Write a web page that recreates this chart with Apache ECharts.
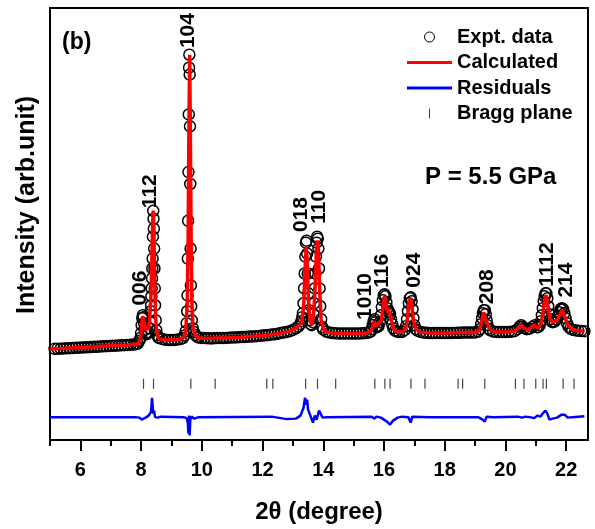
<!DOCTYPE html>
<html><head><meta charset="utf-8">
<script src="https://cdn.jsdelivr.net/npm/echarts@6/dist/echarts.min.js"></script>
<style>html,body{margin:0;padding:0;background:#fff}#c{width:595px;height:529px}</style>
</head><body><div id="c"></div>
<script>
// 2theta (degree), intensity (arb. units)
const obsData = [
[5.15,692],[5.25,693],[5.35,694],[5.45,696],[5.55,697],[5.65,699],[5.75,700],[5.85,702],[5.95,704],
[6.05,705],[6.15,707],[6.25,708],[6.35,710],[6.45,712],[6.55,713],[6.65,715],[6.75,717],[6.85,719],[6.95,721],
[7.05,722],[7.15,724],[7.25,725],[7.35,727],[7.45,729],[7.55,731],[7.65,733],[7.75,735],[7.83,739],[7.89,746],
[7.94,770],[7.98,800],[8.00,850],[8.02,930],[8.04,1000],[8.06,1030],[8.08,1010],[8.10,950],[8.12,880],[8.15,845],
[8.18,838],[8.21,845],[8.24,860],[8.27,900],[8.30,960],[8.32,1070],[8.33,1130],[8.34,1220],[8.35,1300],[8.36,1400],
[8.37,1500],[8.38,1600],[8.39,1820],[8.40,2080],[8.41,2000],[8.42,1900],[8.43,1700],[8.44,1500],[8.45,1300],[8.46,1130],
[8.48,980],[8.50,880],[8.53,830],[8.57,805],[8.6,800],[8.7,790],[8.8,783],[8.9,781],[9.0,780],[9.1,782],
[9.2,785],[9.3,790],[9.38,800],[9.43,825],[9.47,870],[9.50,950],[9.52,1070],[9.53,1230],[9.54,1600],[9.55,1980],
[9.56,2470],[9.57,3050],[9.58,3520],[9.59,3650],[9.60,3450],[9.61,2930],[9.62,2350],[9.63,1700],[9.64,1330],[9.65,1120],
[9.67,980],[9.70,900],[9.74,860],[9.79,830],[9.85,812],[9.9,805],[10.0,800],[10.1,800],[10.2,798],[10.3,797],
[10.4,798],[10.5,800],[10.6,800],[10.7,801],[10.8,802],[10.9,804],[11.0,806],[11.1,807],[11.2,808],[11.3,810],
[11.4,811],[11.5,813],[11.6,815],[11.7,817],[11.8,819],[11.9,822],[12.0,825],[12.1,828],[12.2,831],[12.3,835],
[12.4,839],[12.5,844],[12.6,850],[12.7,856],[12.8,862],[12.9,870],[13.0,882],[13.1,898],[13.18,915],[13.24,940],
[13.28,970],[13.31,1010],[13.33,1050],[13.35,1150],[13.37,1300],[13.39,1450],[13.41,1620],[13.43,1760],[13.45,1780],[13.47,1650],
[13.49,1450],[13.51,1250],[13.53,1080],[13.56,980],[13.59,940],[13.62,930],[13.65,960],[13.68,1040],[13.70,1150],[13.72,1300],
[13.74,1450],[13.76,1620],[13.78,1760],[13.80,1820],[13.82,1800],[13.84,1700],[13.86,1500],[13.88,1300],[13.90,1120],[13.93,990],
[13.97,910],[14.0,885],[14.1,865],[14.2,855],[14.3,850],[14.4,848],[14.5,846],[14.6,845],[14.7,845],[14.8,845],
[14.9,845],[15.0,845],[15.1,846],[15.2,847],[15.3,848],[15.4,850],[15.5,855],[15.56,865],[15.60,890],[15.63,930],
[15.66,970],[15.69,990],[15.72,960],[15.75,920],[15.78,910],[15.82,920],[15.86,960],[15.90,1030],[15.93,1110],[15.96,1180],
[15.99,1230],[16.02,1240],[16.05,1220],[16.08,1160],[16.11,1100],[16.14,1070],[16.17,1060],[16.20,1040],[16.23,990],[16.27,940],
[16.31,900],[16.36,875],[16.42,865],[16.5,860],[16.6,862],[16.68,880],[16.73,920],[16.76,990],[16.79,1070],[16.82,1150],
[16.85,1200],[16.88,1210],[16.91,1170],[16.94,1090],[16.97,1000],[17.00,930],[17.05,890],[17.1,875],[17.2,862],[17.3,856],
[17.4,853],[17.5,851],[17.6,850],[17.7,850],[17.8,850],[17.9,850],[18.0,850],[18.1,851],[18.2,852],[18.3,852],
[18.4,853],[18.5,854],[18.6,855],[18.7,855],[18.8,856],[18.9,856],[19.0,857],[19.1,865],[19.16,890],[19.20,940],
[19.23,1000],[19.26,1050],[19.29,1080],[19.32,1080],[19.35,1040],[19.38,980],[19.41,930],[19.45,895],[19.5,878],[19.6,866],
[19.7,862],[19.8,860],[19.9,860],[20.0,860],[20.1,862],[20.2,865],[20.3,870],[20.4,890],[20.47,915],[20.52,930],
[20.57,915],[20.62,900],[20.7,890],[20.8,895],[20.9,915],[20.97,930],[21.03,910],[21.08,910],[21.13,930],[21.17,970],
[21.20,1030],[21.23,1100],[21.26,1170],[21.29,1220],[21.32,1250],[21.35,1250],[21.38,1200],[21.41,1120],[21.44,1040],[21.48,990],
[21.52,965],[21.56,960],[21.62,965],[21.68,985],[21.73,1020],[21.78,1060],[21.82,1090],[21.86,1100],[21.90,1090],[21.94,1050],
[21.98,1000],[22.03,950],[22.08,915],[22.14,895],[22.2,885],[22.3,878],[22.4,874],[22.5,872],[22.6,870]
];
const calcData = [
[5.00,690],[5.50,697],[6.00,705],[6.50,713],[7.00,722],[7.50,730],[7.80,737],[7.92,750],[7.98,800],[8.02,910],
[8.05,1020],[8.07,1033],[8.10,970],[8.15,880],[8.20,860],[8.25,900],[8.28,980],[8.32,1200],[8.35,1500],[8.38,1950],
[8.40,2083],[8.42,1920],[8.45,1350],[8.48,1000],[8.52,850],[8.58,800],[8.65,785],[8.80,780],[9.00,780],[9.20,785],
[9.40,805],[9.47,870],[9.52,1150],[9.55,1800],[9.57,2700],[9.60,3650],[9.62,3000],[9.645,1900],[9.67,1200],[9.71,900],
[9.78,830],[9.90,800],[10.20,795],[10.44,800],[10.80,800],[11.20,805],[11.60,815],[12.00,825],[12.30,835],[12.60,850],
[12.90,870],[13.10,900],[13.25,940],[13.30,980],[13.36,1150],[13.40,1500],[13.44,1720],[13.47,1580],[13.51,1200],[13.56,980],
[13.62,933],[13.68,1020],[13.73,1300],[13.77,1650],[13.81,1783],[13.84,1700],[13.88,1300],[13.93,980],[14.00,890],[14.10,860],
[14.30,850],[14.60,845],[15.00,845],[15.40,850],[15.58,870],[15.64,930],[15.69,970],[15.74,920],[15.80,900],[15.92,980],
[15.98,1150],[16.02,1220],[16.07,1140],[16.12,1060],[16.16,1050],[16.19,1070],[16.24,980],[16.32,890],[16.45,860],[16.60,860],
[16.72,900],[16.78,1020],[16.83,1170],[16.87,1200],[16.91,1150],[16.97,980],[17.05,890],[17.20,860],[17.50,850],[18.00,850],
[18.50,855],[19.00,855],[19.15,880],[19.22,970],[19.28,1060],[19.31,1073],[19.34,1050],[19.40,950],[19.50,880],[19.70,860],
[20.00,860],[20.30,870],[20.45,910],[20.52,930],[20.60,900],[20.75,885],[20.90,920],[20.97,930],[21.05,900],[21.15,930],
[21.22,1020],[21.28,1160],[21.34,1233],[21.39,1150],[21.46,1000],[21.55,960],[21.70,980],[21.80,1040],[21.88,1083],[21.95,1020],
[22.05,930],[22.20,890],[22.40,875],[22.60,870]
];
const residData = [
[5.0,5],[7.8,5],[7.95,0],[8.02,-20],[8.08,-40],[8.15,0],[8.25,20],[8.33,60],[8.36,200],[8.38,180],
[8.40,40],[8.43,70],[8.46,5],[8.50,25],[8.55,0],[8.65,10],[9.4,5],[9.50,-5],[9.54,-50],[9.56,-160],
[9.58,20],[9.60,-180],[9.62,-20],[9.66,10],[9.75,-10],[9.90,5],[12.3,10],[12.5,0],[12.8,-15],[13.1,-10],
[13.25,20],[13.35,100],[13.40,200],[13.44,130],[13.47,180],[13.50,80],[13.54,100],[13.60,0],[13.66,-50],[13.72,20],
[13.78,-20],[13.86,70],[13.92,80],[13.98,0],[14.1,5],[15.6,10],[15.68,-10],[15.75,10],[15.9,0],[16.1,-40],
[16.2,-70],[16.3,-30],[16.45,0],[16.6,10],[16.8,5],[16.88,-50],[16.93,10],[17.5,5],[19.1,5],[19.25,-20],
[19.32,-40],[19.38,10],[19.6,5],[20.4,10],[20.55,0],[20.65,10],[20.8,5],[20.95,-5],[21.05,20],[21.15,10],
[21.25,50],[21.32,70],[21.38,40],[21.45,-20],[21.55,-10],[21.7,0],[21.85,30],[21.95,30],[22.05,0],[22.2,5],
[22.6,15]
];
const braggPositions = [8.08,8.41,9.64,10.44,12.14,12.34,13.42,13.81,14.41,15.70,16.03,16.20,16.89,17.35,18.44,18.59,19.32,20.33,20.61,21.00,21.24,21.35,21.90,22.26];
const braggLevel = 340;
const peakLabels = ['006','112','104','018','110','1010','116','024','208','1112','214'];
const peakLabelPos = [[7.96,1127],[8.30,2107],[9.55,3717],[13.27,1867],[13.86,1950],[15.39,983],[15.94,1307],[17.01,1307],[19.39,1140],[21.38,1317],[22.01,1207]];
const majorTicks = [6,8,10,12,14,16,18,20,22];
const minorTicks = [5,7,9,11,13,15,17,19,21];
const xRange = [5, 22.72];
const yRange = [-225, 4120];

const FONT = '"Liberation Sans", Arial, sans-serif';
const LINE_ICON = 'path://M0,0L45,0L45,3L0,3Z';
const chart = echarts.init(document.getElementById('c'), null, {renderer: 'canvas'});
chart.setOption({
  animation: false,
  backgroundColor: '#fff',
  grid: {left: 50, right: 7, top: 8, bottom: 86.5, show: true, borderColor: '#000', borderWidth: 2, backgroundColor: 'transparent'},
  xAxis: [
    {type: 'value', min: xRange[0], max: xRange[1], position: 'bottom',
     axisLine: {show: true, onZero: false, lineStyle: {color: '#000', width: 2}},
     axisTick: {show: true, customValues: majorTicks, length: 11, lineStyle: {color: '#000', width: 2}},
     axisLabel: {show: true, customValues: majorTicks, margin: 20, fontSize: 20, fontWeight: 'bold', color: '#000', fontFamily: FONT},
     splitLine: {show: false},
     name: '2θ (degree)', nameLocation: 'middle', nameGap: 60,
     nameTextStyle: {fontSize: 24, fontWeight: 'bold', color: '#000', fontFamily: FONT}},
    {type: 'value', min: xRange[0], max: xRange[1], position: 'bottom',
     axisLine: {show: false, onZero: false},
     axisTick: {show: true, customValues: minorTicks, length: 6, lineStyle: {color: '#000', width: 2}},
     axisLabel: {show: false}, splitLine: {show: false}}
  ],
  yAxis: {type: 'value', min: yRange[0], max: yRange[1], show: false},
  legend: {
    orient: 'vertical', left: 402, top: 22, itemWidth: 45, itemHeight: 10, itemGap: 5.5,
    selectedMode: false,
    textStyle: {fontSize: 20, fontWeight: 'bold', color: '#000', fontFamily: FONT},
    data: [
      {name: 'Expt. data', icon: 'circle', itemStyle: {borderWidth: 1}},
      {name: 'Calculated', icon: LINE_ICON},
      {name: 'Residuals', icon: LINE_ICON},
      {name: 'Bragg plane', icon: 'path://M0,0L1,0L1,10L0,10Z'}
    ]
  },
  series: [
    {name: 'Expt. data', type: 'scatter', data: obsData, symbol: 'circle', symbolSize: 11,
     itemStyle: {color: 'rgba(255,255,255,0)', borderColor: '#000', borderWidth: 1.5, opacity: 1}, z: 2, silent: true},
    {name: 'Calculated', type: 'line', data: calcData, symbol: 'none',
     lineStyle: {color: '#ff0000', width: 3.5}, itemStyle: {color: '#ff0000'}, z: 3, silent: true},
    {name: 'Residuals', type: 'line', data: residData, symbol: 'none',
     lineStyle: {color: '#0000ff', width: 2.5}, itemStyle: {color: '#0000ff'}, z: 3, silent: true},
    {name: 'Bragg plane', type: 'scatter', data: braggPositions.map(v => [v, braggLevel]),
     symbol: 'rect', symbolSize: [1.2, 10], itemStyle: {color: '#444', opacity: 1}, z: 3, silent: true},
    {name: 'hkl', type: 'scatter', z: 5, silent: true, symbolSize: 1,
     itemStyle: {color: 'rgba(0,0,0,0)', opacity: 1},
     data: peakLabels.map((t, i) => ({name: t, value: peakLabelPos[i]})),
     label: {show: true, formatter: '{b}', rotate: 90, position: 'inside', align: 'left', verticalAlign: 'middle',
             fontSize: 21, fontWeight: 'bold', color: '#000', opacity: 1, fontFamily: FONT}}
  ],
  graphic: [
    {type: 'text', x: 62, y: 42.5, style: {text: '(b)', textAlign: 'left', textVerticalAlign: 'middle', font: 'bold 23px ' + FONT, fill: '#000'}},
    {type: 'text', x: 425, y: 177.5, style: {text: 'P = 5.5 GPa', textAlign: 'left', textVerticalAlign: 'middle', font: 'bold 24px ' + FONT, fill: '#000'}},
    {type: 'text', x: 27, y: 205, rotation: Math.PI / 2, style: {text: 'Intensity (arb.unit)', textAlign: 'center', textVerticalAlign: 'middle', font: 'bold 25px ' + FONT, fill: '#000'}}
  ]
});
</script>
</body></html>
